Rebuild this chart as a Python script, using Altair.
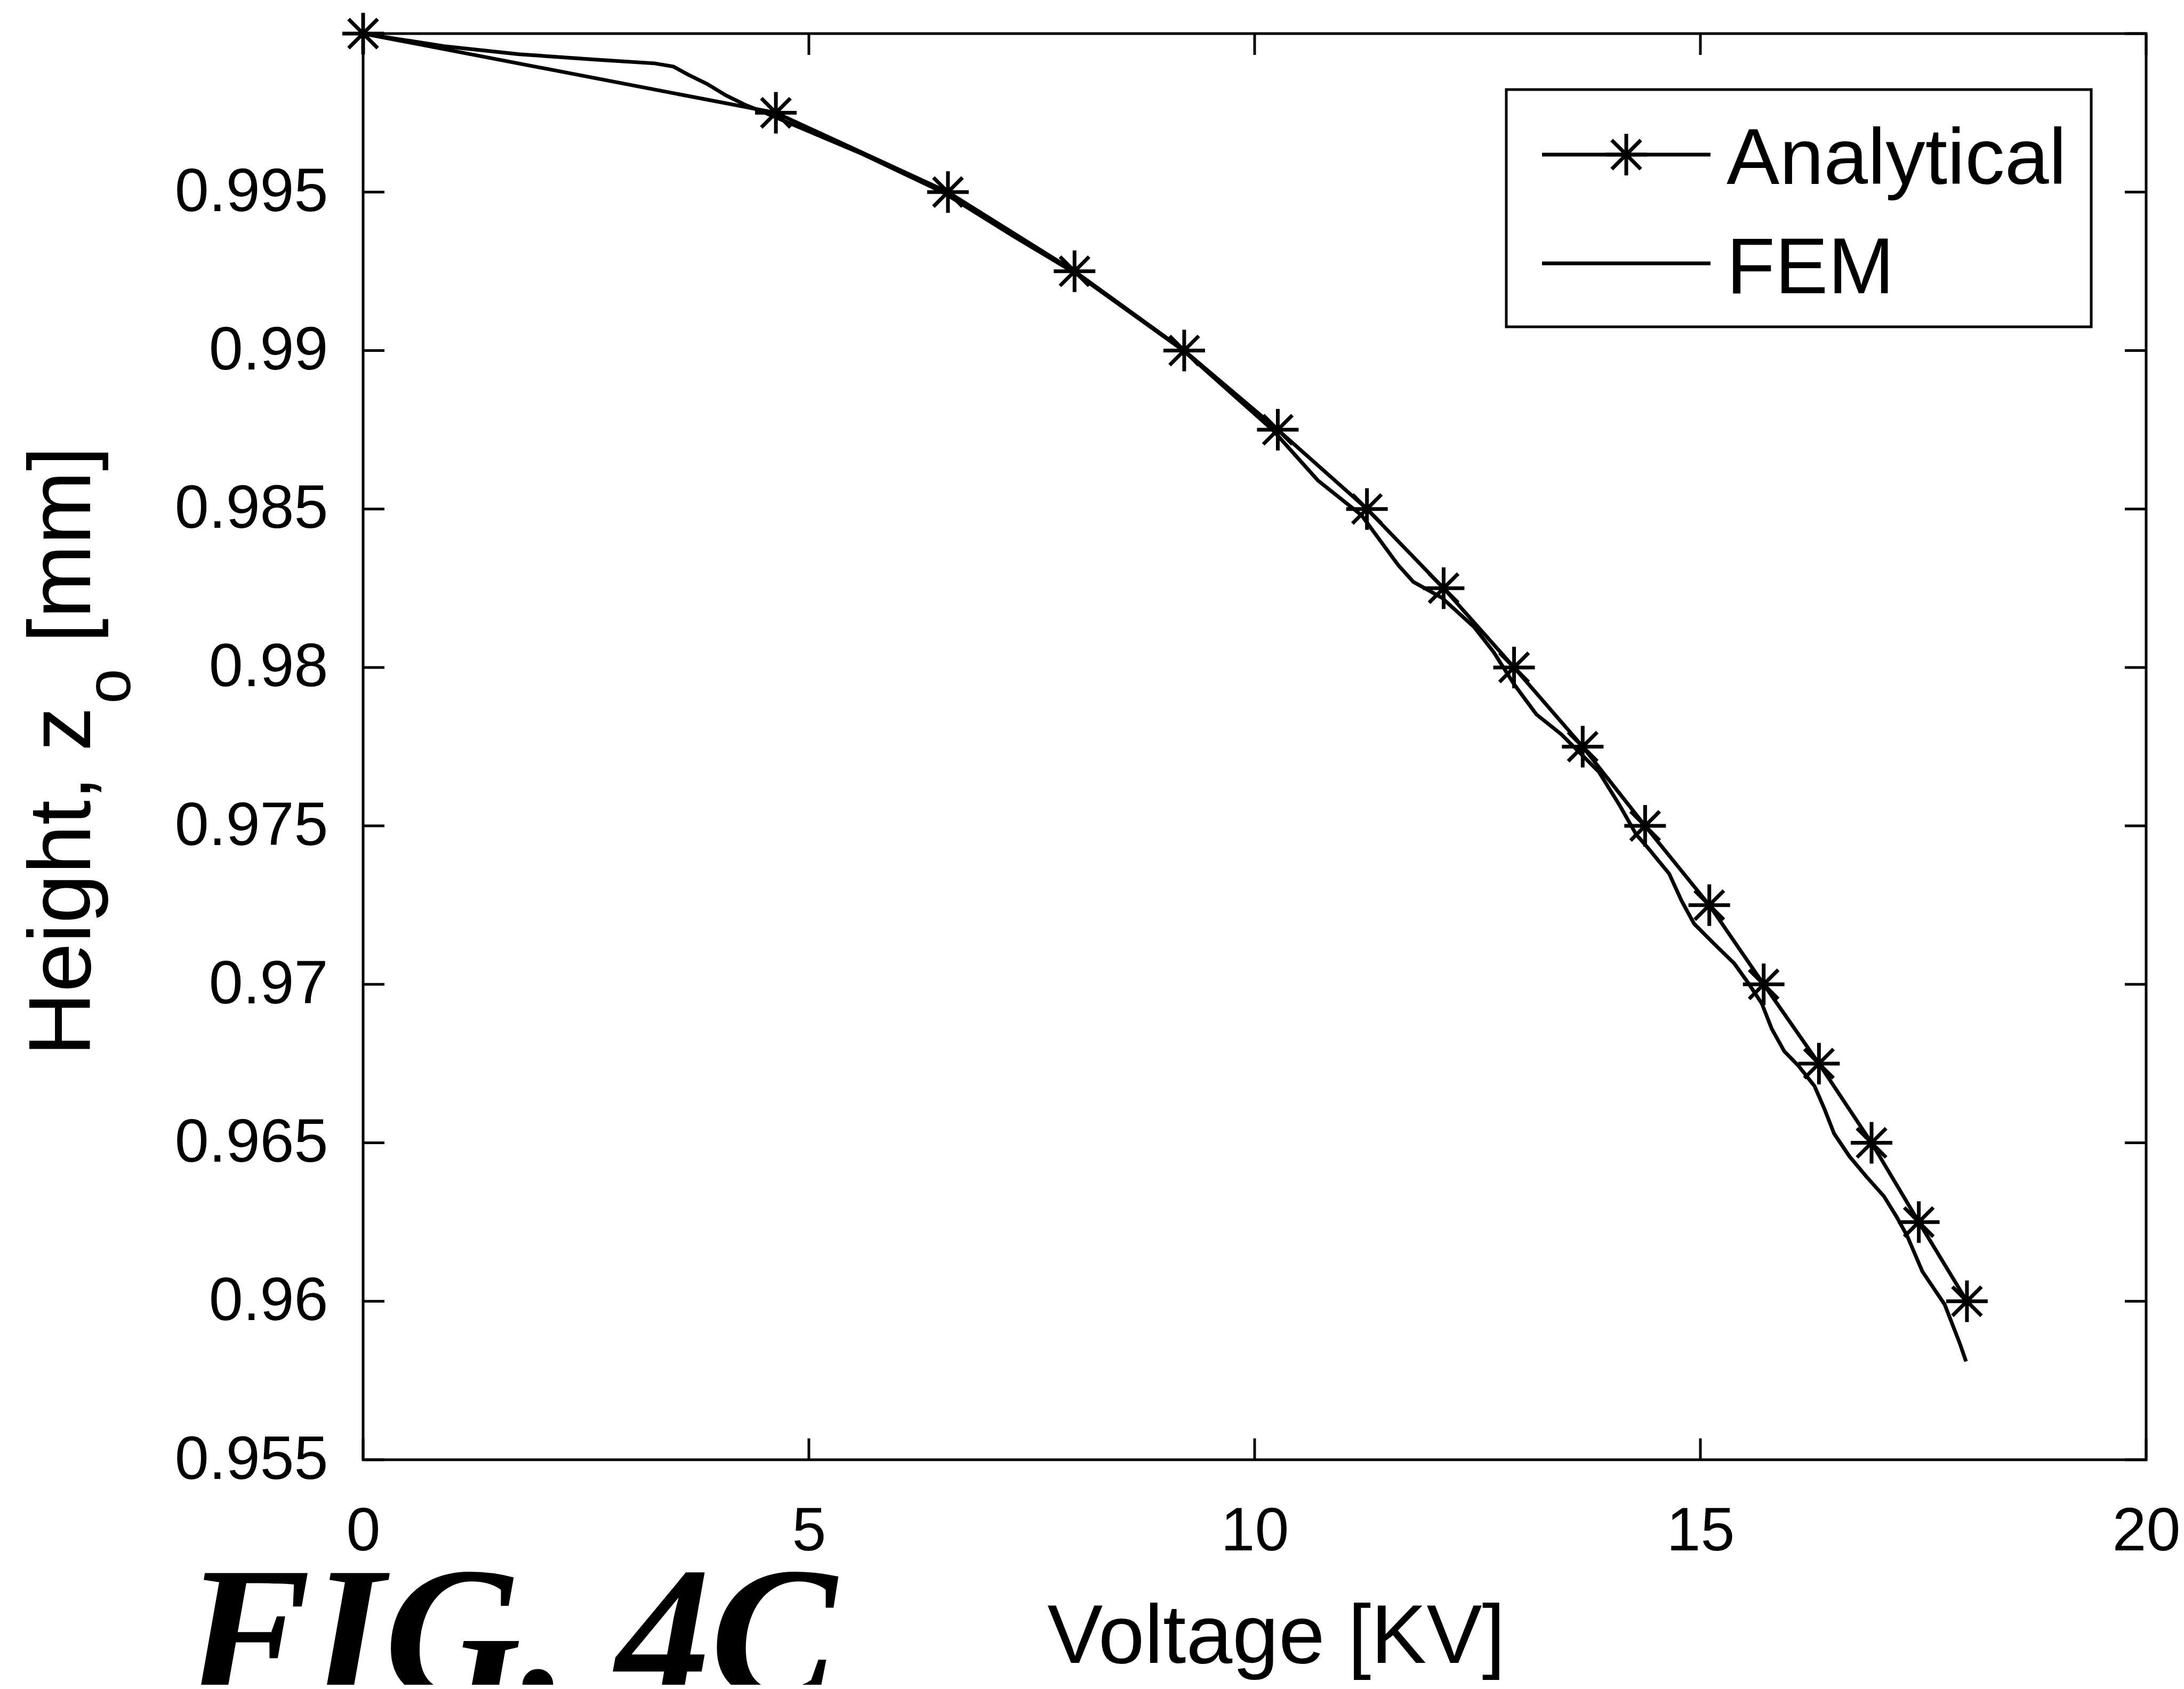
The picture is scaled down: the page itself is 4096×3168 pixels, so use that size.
import altair as alt
import pandas as pd

# ---- data ----
# Analytical solution (asterisk markers)
ana_v = [0.0, 4.63, 6.56, 7.98, 9.21, 10.26, 11.26, 12.12, 12.91, 13.68,
         14.38, 15.10, 15.71, 16.33, 16.92, 17.45, 17.99]
ana_z = [1.0, 0.9975, 0.995, 0.9925, 0.990, 0.9875, 0.985, 0.9825, 0.980, 0.9775,
         0.975, 0.9725, 0.970, 0.9675, 0.965, 0.9625, 0.960]

# FEM solution (plain line)
fem_v = [0.0, 0.91, 1.75, 2.60, 3.27, 3.48, 3.65, 3.86, 4.07, 4.28, 4.50,
         5.60, 6.50, 7.30, 8.00, 9.20, 10.20,
         10.71, 11.20, 11.61, 11.78, 12.10, 12.46, 12.68, 12.91, 13.16, 13.44,
         13.86, 14.09, 14.28, 14.42, 14.65, 14.79, 14.93, 15.15, 15.38, 15.54,
         15.69, 15.80, 15.94, 16.10, 16.28, 16.39, 16.50, 16.67, 16.86, 17.06,
         17.20, 17.32, 17.49, 17.74, 17.91, 17.98]
fem_z = [1.0, 0.99960, 0.99935, 0.99918, 0.99906, 0.99896, 0.99870, 0.99841, 0.99805, 0.99776, 0.99751,
         0.9962, 0.9950, 0.9936, 0.99242, 0.9900, 0.9875,
         0.9859, 0.9848, 0.98323, 0.98270, 0.9822, 0.98128, 0.98049, 0.97947, 0.97852, 0.97789,
         0.97671, 0.97567, 0.97473, 0.97428, 0.97349, 0.97263, 0.97191, 0.97129, 0.97066, 0.97003,
         0.96939, 0.96860, 0.96789, 0.96743, 0.96679, 0.96608, 0.96529, 0.96458, 0.96394, 0.96331,
         0.96267, 0.96206, 0.96094, 0.95990, 0.95867, 0.95810]

x_ticks = [0, 5, 10, 15, 20]
y_labels = [0.955, 0.96, 0.965, 0.97, 0.975, 0.98, 0.985, 0.99, 0.995]
y_ticks = y_labels + [1.0]

series_names = ["Analytical", "FEM"]
x_title = "Voltage [KV]"
y_title_parts = ["Height, z", "o", "[mm]"]
fig_label = "FIG. 4C"

# ---- layout ----
W, H = 3344, 2675
TICK = 40
LW = 7
SANS = "Liberation Sans"
SERIF = "Liberation Serif"
STAR = "M-1,0L1,0M0,-1L0,1M-0.7,-0.7L0.7,0.7M-0.7,0.7L0.7,-0.7"

xs = alt.Scale(domain=[0, 20], nice=False, zero=False)
ys = alt.Scale(domain=[0.955, 1.0], nice=False, zero=False)

fem_df = pd.DataFrame({"v": fem_v, "z": fem_z})
ana_df = pd.DataFrame({"v": ana_v, "z": ana_z})
xt_df = pd.DataFrame({"v": x_ticks})
yt_df = pd.DataFrame({"z": y_ticks})
one = pd.DataFrame({"a": [0]})

X_AX = alt.Axis(values=x_ticks, format="d", title=x_title, labelFlush=False,
                labelPadding=78, titleY=380, titleX=1712, titleAlign="center",
                titleBaseline="alphabetic",
                titleFontSize=156, titleFont=SANS, titleFontWeight="normal",
                titleColor="black")
Y_AX = alt.Axis(values=y_labels, format=".3~f", title="", labelPadding=66,
                labelFlush=False)

fem_line = alt.Chart(fem_df).mark_line(color="black", strokeWidth=LW).encode(
    x=alt.X("v:Q", scale=xs, axis=X_AX),
    y=alt.Y("z:Q", scale=ys, axis=Y_AX),
)

ana_line = alt.Chart(ana_df).mark_line(color="black", strokeWidth=LW).encode(
    x=alt.X("v:Q", scale=xs, axis=X_AX),
    y=alt.Y("z:Q", scale=ys, axis=Y_AX),
)
ana_pts = alt.Chart(ana_df).mark_point(shape=STAR, size=78 * 78, filled=False,
                                       stroke="black", strokeWidth=LW, opacity=1).encode(
    x=alt.X("v:Q", scale=xs, axis=X_AX),
    y=alt.Y("z:Q", scale=ys, axis=Y_AX),
)

tick_bottom = alt.Chart(xt_df).mark_rule(color="black", strokeWidth=5).encode(
    x=alt.X("v:Q", scale=xs, axis=X_AX), y=alt.value(H), y2=alt.value(H - TICK))
tick_top = alt.Chart(xt_df).mark_rule(color="black", strokeWidth=5).encode(
    x=alt.X("v:Q", scale=xs, axis=X_AX), y=alt.value(0), y2=alt.value(TICK))
tick_left = alt.Chart(yt_df).mark_rule(color="black", strokeWidth=5).encode(
    y=alt.Y("z:Q", scale=ys, axis=Y_AX), x=alt.value(0), x2=alt.value(TICK))
tick_right = alt.Chart(yt_df).mark_rule(color="black", strokeWidth=5).encode(
    y=alt.Y("z:Q", scale=ys, axis=Y_AX), x=alt.value(W), x2=alt.value(W - TICK))

# legend
leg_box = alt.Chart(one).mark_rect(fill="white", stroke="black", strokeWidth=5).encode(
    x=alt.value(2144), x2=alt.value(3241), y=alt.value(105), y2=alt.value(550))
leg_l1 = alt.Chart(one).mark_rule(color="black", strokeWidth=LW).encode(
    x=alt.value(2211), x2=alt.value(2527), y=alt.value(227))
leg_star = alt.Chart(one).mark_point(shape=STAR, size=78 * 78, filled=False,
                                     stroke="black", strokeWidth=LW, opacity=1).encode(
    x=alt.value(2369), y=alt.value(227))
leg_l2 = alt.Chart(one).mark_rule(color="black", strokeWidth=LW).encode(
    x=alt.value(2211), x2=alt.value(2527), y=alt.value(431))
leg_t1 = alt.Chart(one).mark_text(text=series_names[0], align="left", baseline="alphabetic",
                                  font=SANS, fontSize=149, color="black").encode(
    x=alt.value(2557), y=alt.value(282))
leg_t2 = alt.Chart(one).mark_text(text=series_names[1], align="left", baseline="alphabetic",
                                  font=SANS, fontSize=149, color="black").encode(
    x=alt.value(2557), y=alt.value(487))

# y-axis title with subscript
yt1 = alt.Chart(one).mark_text(text=y_title_parts[0], angle=270, align="left",
                               baseline="alphabetic", font=SANS, fontSize=166,
                               color="black").encode(x=alt.value(-512), y=alt.value(1918))
yt2 = alt.Chart(one).mark_text(text=y_title_parts[1], angle=270, align="left",
                               baseline="alphabetic", font=SANS, fontSize=118,
                               color="black").encode(x=alt.value(-437), y=alt.value(1257))
yt3 = alt.Chart(one).mark_text(text=y_title_parts[2], angle=270, align="left",
                               baseline="alphabetic", font=SANS, fontSize=166,
                               color="black").encode(x=alt.value(-512), y=alt.value(1143))

fig = alt.Chart(one).mark_text(text=fig_label, align="left", baseline="alphabetic",
                               font=SERIF, fontSize=355, fontStyle="italic",
                               fontWeight="bold", color="black").encode(
    x=alt.value(-335), y=alt.value(3120))

chart = alt.layer(
    fem_line, ana_line, ana_pts,
    tick_bottom, tick_top, tick_left, tick_right,
    leg_box, leg_l1, leg_star, leg_l2, leg_t1, leg_t2,
    yt1, yt2, yt3, fig,
).properties(
    width=W, height=H,
    autosize=alt.AutoSizeParams(type="none"),
    padding={"left": 673, "top": 55, "right": 63, "bottom": 422},
    background="white",
).configure_view(
    stroke="black", strokeWidth=5,
).configure_axis(
    labelFont=SANS, labelFontSize=115, labelColor="black", labelLimit=2000,
    ticks=False, domain=False, grid=False, tickSize=0,
)

chart.save("out.html", embed_options={"renderer": "svg", "actions": False})
